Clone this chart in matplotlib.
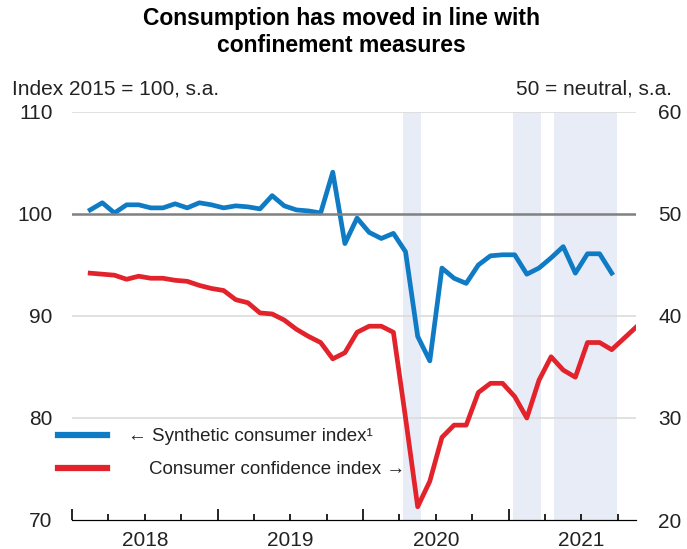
import numpy as np
import matplotlib.pyplot as plt
from matplotlib.ticker import FixedLocator, FixedFormatter, NullFormatter
from matplotlib.lines import Line2D

plt.rcParams['font.family'] = ['Liberation Sans', 'DejaVu Sans']

# monthly values, first point = Feb 2018 (plotted mid-month, x in months since Jan 2018)
synthetic = [100.4, 101.1, 100.1, 100.9, 100.9, 100.6, 100.6, 101.0, 100.6, 101.1,
             100.9, 100.6, 100.8, 100.7, 100.5, 101.8, 100.8, 100.4, 100.3, 100.1,
             104.1, 97.1, 99.6, 98.2, 97.6, 98.1, 96.3, 88.0, 85.6, 94.7,
             93.7, 93.2, 95.0, 95.9, 96.0, 96.0, 94.1, 94.7, 95.7, 96.8,
             94.2, 96.1, 96.1, 94.2]
confidence = [44.2, 44.1, 44.0, 43.6, 43.9, 43.7, 43.7, 43.5, 43.4, 43.0,
              42.7, 42.5, 41.6, 41.3, 40.3, 40.2, 39.6, 38.7, 38.0, 37.4,
              35.8, 36.4, 38.4, 39.0, 39.0, 38.4, 30.0, 21.3, 23.8, 28.1,
              29.3, 29.3, 32.5, 33.4, 33.4, 32.1, 30.0, 33.7, 36.0, 34.7,
              34.0, 37.4, 37.4, 36.7, 37.8, 38.9]
lockdowns = [(27.3, 28.8), (36.4, 38.7), (39.75, 44.9)]
years = ['2018', '2019', '2020', '2021']

blue = '#0f7bc4'
red = '#e2232b'

fig = plt.figure(figsize=(6.87, 5.49), dpi=100)
ax = fig.add_axes([72/687, 29/549, 564/687, 408/549])
ax2 = ax.twinx()

x_syn = np.arange(len(synthetic)) + 1.5
x_conf = np.arange(len(confidence)) + 1.5

for a, b in lockdowns:
    ax.axvspan(a, b, color='#e8ecf6', lw=0, zorder=0)

ax.set_ylim(70, 110)
ax2.set_ylim(20, 60)
ax.set_xlim(0, 46.5)
ax.set_yticks([70, 80, 90, 100, 110])
ax2.set_yticks([20, 30, 40, 50, 60])
for v in [80, 90, 110]:
    ax.axhline(v, color='#dcdcdc', lw=1.2, zorder=1)
ax.axhline(100, color='#808080', lw=1.8, zorder=4)

l1, = ax.plot(x_syn, synthetic, color=blue, lw=3.4, zorder=3, solid_joinstyle='round')
l2, = ax2.plot(x_conf, confidence, color=red, lw=3.4, zorder=3, solid_joinstyle='round')

for a in (ax, ax2):
    for s in ['top', 'left', 'right']:
        a.spines[s].set_visible(False)
    a.spines['bottom'].set_color('black')
    a.tick_params(axis='y', length=0, labelsize=15, colors='#222222')
ax.tick_params(axis='y', pad=14)
ax2.tick_params(axis='y', pad=16)

# x axis: year boundaries (long ticks), quarters (short ticks), year labels mid-year
ax.xaxis.set_major_locator(FixedLocator([0, 12, 24, 36]))
ax.xaxis.set_major_formatter(NullFormatter())
minor = [m for m in range(3, 46, 3) if m % 12 != 0]
ax.xaxis.set_minor_locator(FixedLocator(minor))
ax.xaxis.set_minor_formatter(FixedFormatter(
    [years[m // 12] if m % 12 == 6 else '' for m in minor]))
ax.tick_params(axis='x', which='major', direction='in', length=8, width=1.2)
ax.tick_params(axis='x', which='minor', direction='in', length=4, width=1.2,
               labelsize=15, pad=8, colors='black', labelcolor='#222222')

fig.text(0.497, 0.988, 'Consumption has moved in line with\nconfinement measures',
         ha='center', va='top', fontsize=16.5, fontweight='bold', linespacing=1.25)
fig.text(12/687, 1 - 89/549, 'Index 2015 = 100, s.a.', ha='left', va='center',
         fontsize=15, color='#222222')
fig.text(672/687, 1 - 89/549, '50 = neutral, s.a.', ha='right', va='center',
         fontsize=15, color='#222222')

ax.legend([Line2D([], [], color=blue, lw=4.5), Line2D([], [], color=red, lw=4.5)],
          ['\u2190 Synthetic consumer index\u00b9', '    Consumer confidence index \u2192'],
          loc='upper left', bbox_to_anchor=(58/687, 1 - 428/549),
          bbox_transform=fig.transFigure, frameon=False, fontsize=13.5,
          handlelength=2.6, handletextpad=1.15, labelspacing=0.85,
          borderpad=0, borderaxespad=0, labelcolor='#222222')

fig.savefig('out.png', dpi=100)
